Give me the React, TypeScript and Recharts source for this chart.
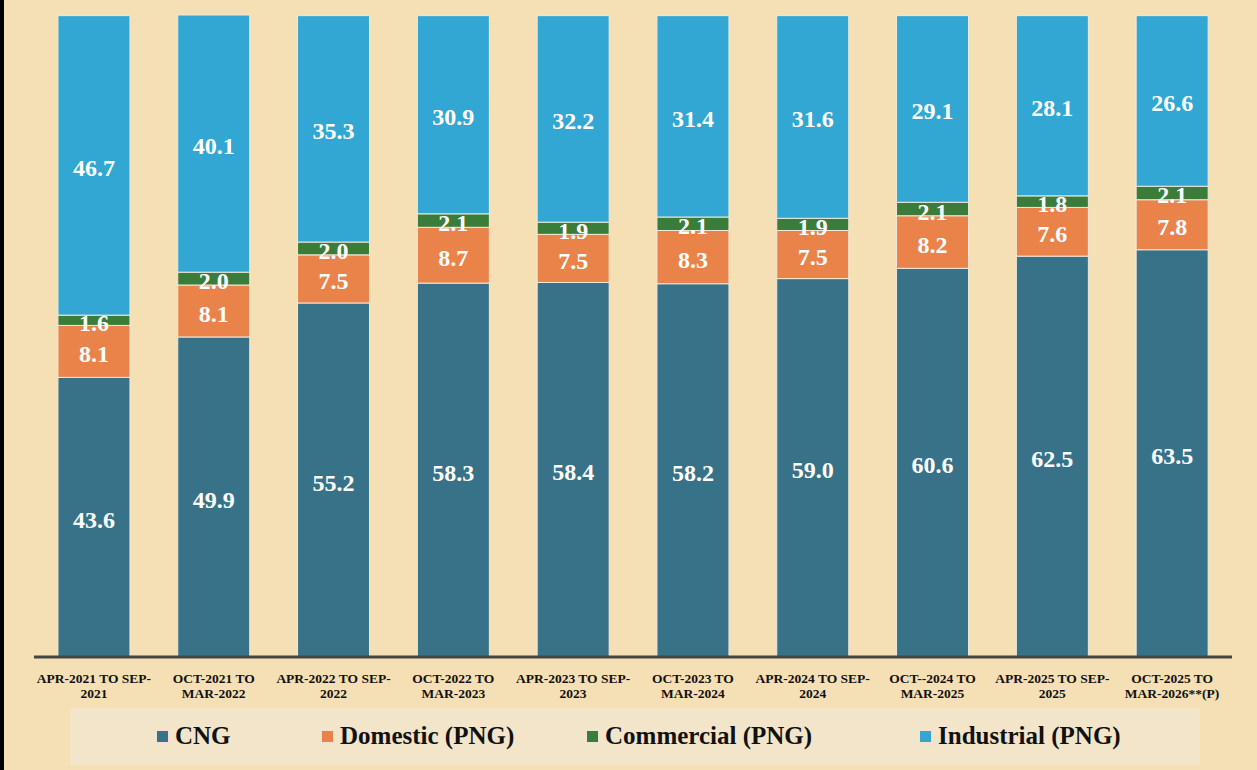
import React from 'react';
import { BarChart, Bar, XAxis, YAxis, LabelList } from 'recharts';

const categories = [
  'APR-2021 TO SEP-|2021',
  'OCT-2021 TO|MAR-2022',
  'APR-2022 TO SEP-|2022',
  'OCT-2022 TO|MAR-2023',
  'APR-2023 TO SEP-|2023',
  'OCT-2023 TO|MAR-2024',
  'APR-2024 TO SEP-|2024',
  'OCT--2024 TO|MAR-2025',
  'APR-2025 TO SEP-|2025',
  'OCT-2025 TO|MAR-2026**(P)',
];
const cng = [43.6, 49.9, 55.2, 58.3, 58.4, 58.2, 59.0, 60.6, 62.5, 63.5];
const domestic = [8.1, 8.1, 7.5, 8.7, 7.5, 8.3, 7.5, 8.2, 7.6, 7.8];
const commercial = [1.6, 2.0, 2.0, 2.1, 1.9, 2.1, 1.9, 2.1, 1.8, 2.1];
const industrial = [46.7, 40.1, 35.3, 30.9, 32.2, 31.4, 31.6, 29.1, 28.1, 26.6];

const seriesNames = ['CNG', 'Domestic (PNG)', 'Commercial (PNG)', 'Industrial (PNG)'];
const seriesKeys = ['cng', 'domestic', 'commercial', 'industrial'];
const seriesColors = ['#387289', '#EA834A', '#3A7C3A', '#33A7D3'];

const data = categories.map((c, i) => ({
  name: c,
  cng: cng[i],
  domestic: domestic[i],
  commercial: commercial[i],
  industrial: industrial[i],
}));

const FONT = '"Liberation Serif", "DejaVu Serif", serif';

const Tick = (props: any) => {
  const { x, y, payload } = props;
  const lines = String(payload.value).split('|');
  return (
    <g transform={`translate(${x},${y})`}>
      {lines.map((l, i) => (
        <text
          key={i}
          x={0}
          y={18 + i * 15}
          textAnchor="middle"
          fontFamily={FONT}
          fontWeight="bold"
          fontSize={13.5}
          fill="#111"
        >
          {l}
        </text>
      ))}
    </g>
  );
};

const legendLefts = [156, 321, 586, 919];

export default function App() {
  return (
    <div
      style={{
        position: 'fixed',
        left: 0,
        top: 0,
        width: 1257,
        height: 770,
        background: '#F5DFB5',
        overflow: 'hidden',
      }}
    >
      <div style={{ position: 'absolute', left: 0, top: 0, width: 4, height: 770, background: '#000' }} />
      <div
        style={{
          position: 'absolute',
          left: 70,
          top: 708,
          width: 1130,
          height: 57,
          background: '#F3E5CA',
        }}
      />
      {seriesNames.map((n, i) => (
        <div
          key={n}
          style={{
            position: 'absolute',
            left: legendLefts[i],
            top: 720,
            height: 32,
            display: 'flex',
            alignItems: 'center',
            fontFamily: FONT,
            fontWeight: 'bold',
            fontSize: 25,
            color: '#111',
            whiteSpace: 'nowrap',
          }}
        >
          <span
            style={{
              display: 'inline-block',
              width: 11,
              height: 11,
              background: seriesColors[i],
              border: '1px solid #f3e0d0',
              marginRight: 6,
            }}
          />
          {n}
        </div>
      ))}
      <div style={{ position: 'absolute', left: 0, top: 0 }}>
        <BarChart
          width={1257}
          height={705}
          data={data}
          margin={{ top: 15, right: 25, left: 34, bottom: 0 }}
          barCategoryGap="20%"
        >
          <YAxis hide domain={[0, 100]} />
          <XAxis
            dataKey="name"
            interval={0}
            tickLine={false}
            axisLine={{ stroke: '#444', strokeWidth: 3 }}
            height={48}
            tick={<Tick />}
          />
          {seriesKeys.map((k, i) => (
            <Bar
              key={k}
              dataKey={k}
              stackId="a"
              fill={seriesColors[i]}
              stroke="#f2e8d8"
              strokeWidth={1}
              isAnimationActive={false}
            >
              <LabelList
                dataKey={k}
                position="center"
                formatter={(v: any) => Number(v).toFixed(1)}
                fill="#fff"
                fontFamily={FONT}
                fontWeight="bold"
                fontSize={24}
                dy={2}
              />
            </Bar>
          ))}
        </BarChart>
      </div>
    </div>
  );
}
